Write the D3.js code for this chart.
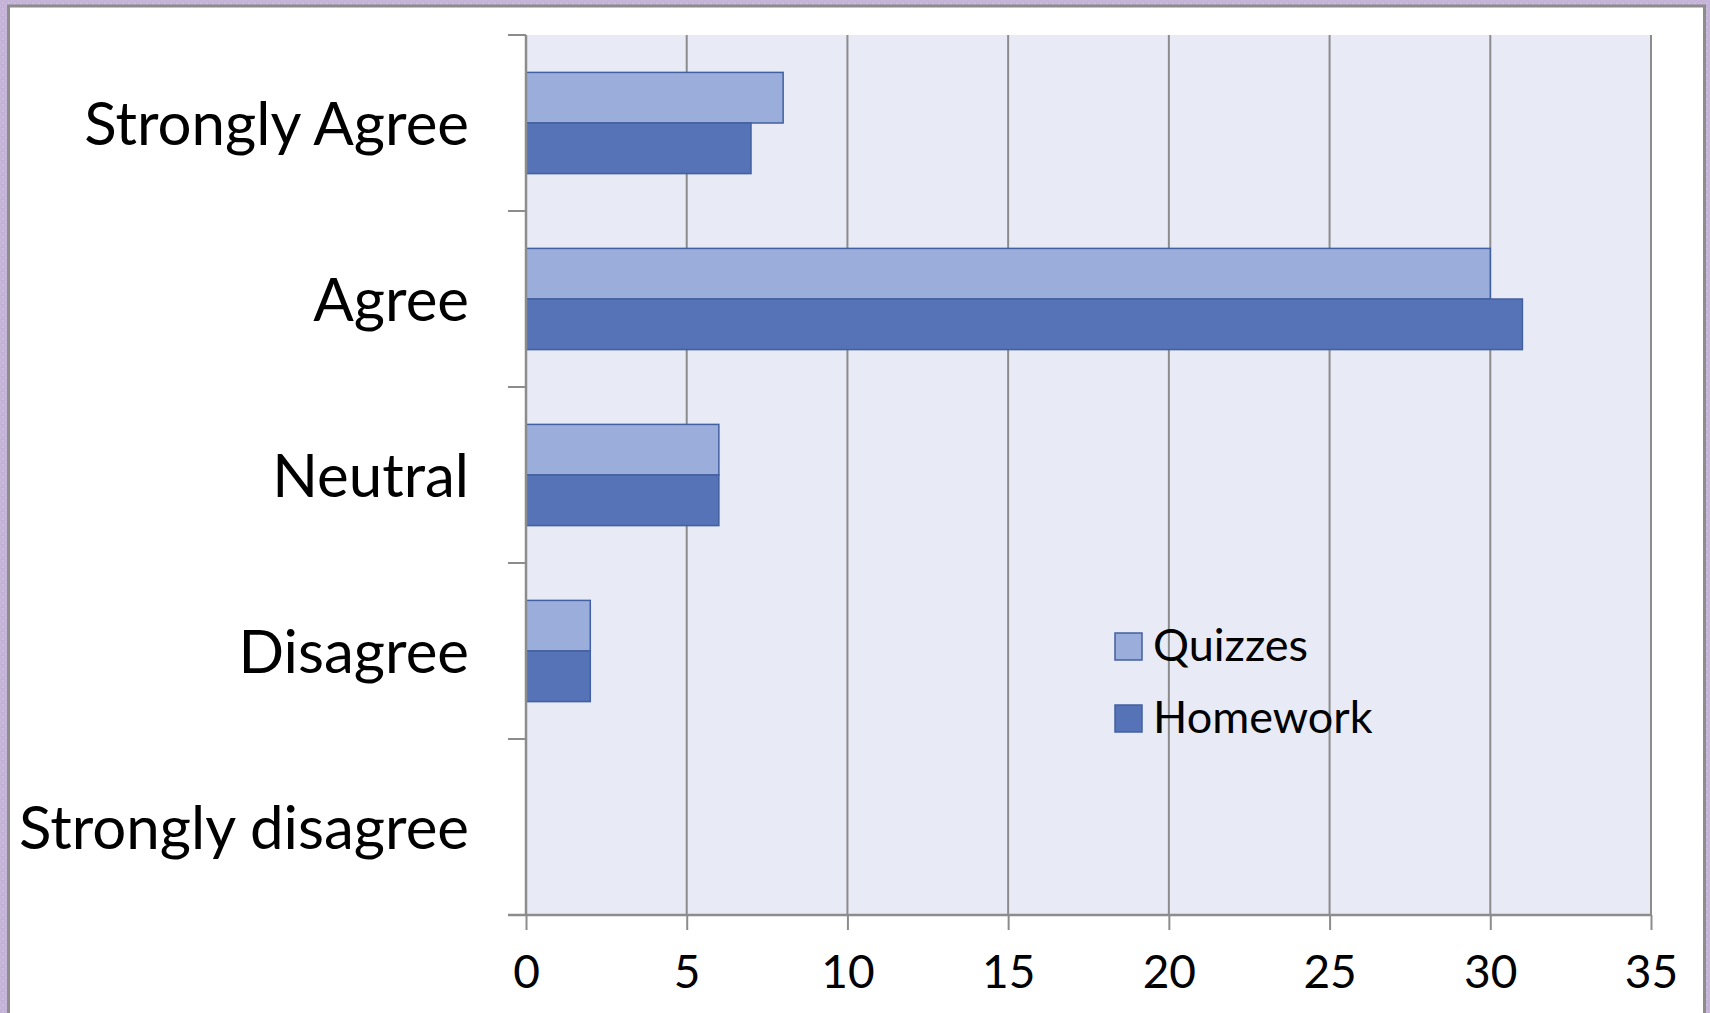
<!DOCTYPE html>
<html>
<head>
<meta charset="utf-8">
<script src="https://cdn.jsdelivr.net/npm/d3@7"></script>
<style>
  html, body { margin: 0; padding: 0; background: #c9badb; }
  svg { display: block; }
</style>
</head>
<body>
<svg id="chart" width="1710" height="1013"></svg>
<script>
const categories = ["Strongly Agree", "Agree", "Neutral", "Disagree", "Strongly disagree"];
const seriesNames = ["Quizzes", "Homework"];
const quizzes = [8, 30, 6, 2, 0];
const homework = [7, 31, 6, 2, 0];
const xTicks = [0, 5, 10, 15, 20, 25, 30, 35];

const colors = { Quizzes: "#9badda", Homework: "#5773b7" };
const strokeCol = "#41609f";
const FONT = "Lato, 'Open Sans', sans-serif";

const svg = d3.select("#chart");

// background pattern frame
const defs = svg.append("defs");
const pat = defs.append("pattern").attr("id", "bgpat").attr("width", 6).attr("height", 6)
  .attr("patternUnits", "userSpaceOnUse");
pat.append("rect").attr("width", 6).attr("height", 6).attr("fill", "#cbbbdc");
pat.append("rect").attr("x", 1).attr("y", 1).attr("width", 4).attr("height", 4)
  .attr("fill", "none").attr("stroke", "#bfaed3").attr("stroke-width", 1);
svg.append("rect").attr("width", 1710).attr("height", 1013).attr("fill", "url(#bgpat)");
svg.append("rect").attr("x", 8.5).attr("y", 6).attr("width", 1696).attr("height", 1020)
  .attr("fill", "#ffffff").attr("stroke", "#8c8c8c").attr("stroke-width", 3);

const margin = { left: 526, top: 35, right: 1710 - 1651, bottom: 1013 - 915 };
const W = 1710 - margin.left - margin.right;
const H = 1013 - margin.top - margin.bottom;

const g = svg.append("g").attr("transform", `translate(${margin.left},${margin.top})`);

const x = d3.scaleLinear().domain([0, 35]).range([0, W]);
const y = d3.scaleBand().domain(categories).range([0, H]).padding(0);
const groupFrac = 0.575;
const inner = d3.scaleBand().domain(seriesNames)
  .range([y.bandwidth() * (1 - groupFrac) / 2, y.bandwidth() * (1 + groupFrac) / 2]).padding(0);

// plot background
g.append("rect").attr("width", W).attr("height", H).attr("fill", "#e8ebf5");

// vertical gridlines
g.selectAll("line.grid").data(xTicks).join("line")
  .attr("class", "grid")
  .attr("x1", d => x(d)).attr("x2", d => x(d))
  .attr("y1", 0).attr("y2", H)
  .attr("stroke", "#8c8c8c").attr("stroke-width", 2);

// bars
const rows = categories.map((c, i) => ({ cat: c, Quizzes: quizzes[i], Homework: homework[i] }));
const grp = g.selectAll("g.cat").data(rows).join("g")
  .attr("class", "cat")
  .attr("transform", d => `translate(0,${y(d.cat)})`);
grp.selectAll("rect").data(d => seriesNames.map(s => ({ s, v: d[s] })).filter(e => e.v > 0)).join("rect")
  .attr("x", x(0))
  .attr("y", d => inner(d.s))
  .attr("width", d => x(d.v) - x(0))
  .attr("height", inner.bandwidth())
  .attr("fill", d => colors[d.s])
  .attr("stroke", strokeCol)
  .attr("stroke-width", 1.5);

// x axis
const xAxis = g.append("g").attr("transform", `translate(0,${H})`)
  .call(d3.axisBottom(x).tickValues(xTicks).tickSize(15).tickPadding(25).tickSizeOuter(0));
xAxis.select(".domain").attr("stroke", "#8c8c8c").attr("stroke-width", 2.5)
  .attr("d", `M${-18},0H${W}`);
xAxis.selectAll(".tick line").attr("stroke", "#8c8c8c").attr("stroke-width", 2);
xAxis.selectAll(".tick text").attr("font-family", FONT).attr("font-size", 46)
  .attr("fill", "#000").attr("dy", "0.72em");

// y axis (ticks at category boundaries)
const boundaries = d3.range(categories.length + 1).map(i => i * y.step());
g.append("line").attr("x1", 0).attr("x2", 0).attr("y1", 0).attr("y2", H)
  .attr("stroke", "#8c8c8c").attr("stroke-width", 2.5);
g.selectAll("line.ytick").data(boundaries).join("line")
  .attr("class", "ytick")
  .attr("x1", -18).attr("x2", 0)
  .attr("y1", d => d).attr("y2", d => d)
  .attr("stroke", "#8c8c8c").attr("stroke-width", 2);

g.selectAll("text.ylab").data(categories).join("text")
  .attr("class", "ylab")
  .attr("x", -57)
  .attr("y", d => y(d) + y.bandwidth() / 2)
  .attr("dy", "0.36em")
  .attr("text-anchor", "end")
  .attr("font-family", FONT).attr("font-size", 60)
  .attr("fill", "#000")
  .text(d => d);

// legend
const legend = svg.append("g").attr("transform", "translate(1115,633)");
seriesNames.forEach((s, i) => {
  const lg = legend.append("g").attr("transform", `translate(0,${i * 72})`);
  lg.append("rect").attr("width", 27).attr("height", 27)
    .attr("fill", colors[s]).attr("stroke", strokeCol).attr("stroke-width", 1.5);
  lg.append("text").attr("x", 38).attr("y", 28)
    .attr("font-family", FONT).attr("font-size", 45).attr("fill", "#000").text(s);
});
</script>
</body>
</html>
